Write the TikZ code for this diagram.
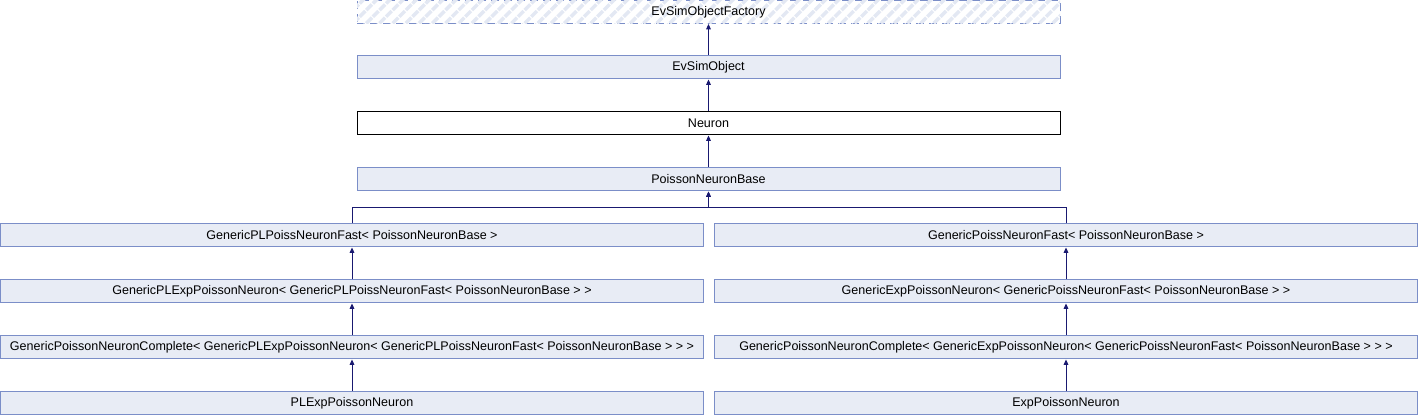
\documentclass[tikz,border=0pt]{standalone}
\usepackage{fontspec}
\setmainfont{Liberation Sans}
\usetikzlibrary{positioning, arrows.meta, patterns.meta}
\definecolor{boxfill}{HTML}{E8ECF5}
\definecolor{boxline}{HTML}{7B8EC8}
\definecolor{hatch}{HTML}{E3E8F3}
\definecolor{inhline}{HTML}{191970}

\begin{document}
\begin{tikzpicture}[x=0.75pt, y=0.75pt,
        cls/.style={rectangle, draw=boxline, fill=boxfill, line width=0.75pt, minimum height=17.25pt, minimum width=527.25pt, inner sep=0pt, font=\fontsize{9.4}{11}\selectfont},
        current/.style={cls, draw=black, fill=white},
        ext/.style={cls, dashed, dash pattern=on 6pt off 3.75pt, fill=white, postaction={pattern={Lines[angle=45, distance=7pt, line width=2.6pt]}, pattern color=hatch}},
        inh/.style={-{Triangle[length=4pt, width=3.5pt]}, draw=inhline, line width=0.75pt}]
        \useasboundingbox (0,0) rectangle (1418,-416);

        \node at (708.5, -12)   [ext]     (factory) {EvSimObjectFactory};
        \node at (708.5, -67.5) [cls]     (evsim)   {EvSimObject};
        \node at (708.5, -123.5)[current] (neuron)  {Neuron};
        \node at (708.5, -179.5)[cls]     (pnbase)  {PoissonNeuronBase};

        \node at (352, -235.5)  [cls] (plfast)    {GenericPLPoissNeuronFast< PoissonNeuronBase >};
        \node at (352, -291.5)  [cls] (plexp)     {GenericPLExpPoissonNeuron< GenericPLPoissNeuronFast< PoissonNeuronBase > >};
        \node at (352, -347.5)  [cls] (plcomp)    {GenericPoissonNeuronComplete< GenericPLExpPoissonNeuron< GenericPLPoissNeuronFast< PoissonNeuronBase > > >};
        \node at (352, -403.5)  [cls] (plexpneu)  {PLExpPoissonNeuron};

        \node at (1066, -235.5) [cls] (fast)      {GenericPoissNeuronFast< PoissonNeuronBase >};
        \node at (1066, -291.5) [cls] (exp)       {GenericExpPoissonNeuron< GenericPoissNeuronFast< PoissonNeuronBase > >};
        \node at (1066, -347.5) [cls] (comp)      {GenericPoissonNeuronComplete< GenericExpPoissonNeuron< GenericPoissNeuronFast< PoissonNeuronBase > > >};
        \node at (1066, -403.5) [cls] (expneu)    {ExpPoissonNeuron};

        \draw   (evsim)     edge[inh]   (factory)
                (neuron)    edge[inh]   (evsim)
                (pnbase)    edge[inh]   (neuron)
                (plexp)     edge[inh]   (plfast)
                (plcomp)    edge[inh]   (plexp)
                (plexpneu)  edge[inh]   (plcomp)
                (exp)       edge[inh]   (fast)
                (comp)      edge[inh]   (exp)
                (expneu)    edge[inh]   (comp)
            ;
        \draw[inh] (plfast.north) -- ++(0,16) -| (pnbase.south);
        \draw[inh] (fast.north) -- ++(0,16) -| (pnbase.south);

    \end{tikzpicture}
\end{document}
